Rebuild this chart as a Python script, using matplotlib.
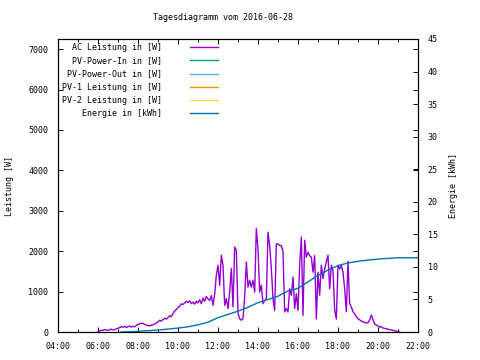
import pandas as pd
import matplotlib.pyplot as plt
import matplotlib.ticker as ticker

plt.rcParams['font.family'] = 'DejaVu Sans Mono'
plt.rcParams['font.size'] = 6

# AC Leistung [W], every 5 minutes from 06:00 to 21:05
ac_start = '2016-06-28 06:00'
ac_power = [
    10, 30, 40, 40, 60, 50, 40, 60, 70, 50, 60, 80,                       # 06
    90, 110, 130, 120, 140, 110, 130, 150, 120, 140, 130, 160,            # 07
    190, 200, 220, 210, 190, 170, 160, 150, 170, 180, 200, 220,           # 08
    250, 290, 270, 310, 340, 320, 360, 400, 380, 450, 520, 560,           # 09
    600, 640, 700, 680, 720, 760, 730, 770, 700, 740, 690, 760,           # 10
    720, 800, 700, 840, 760, 880, 820, 780, 900, 660, 940, 1400,          # 11
    1650, 1150, 1900, 1650, 660, 825, 580, 990, 1570, 620, 2100, 2020,    # 12
    470, 330, 290, 330, 870, 1730, 1110, 1280, 1110, 1280, 990, 2560,     # 13
    2060, 990, 1160, 700, 780, 825, 2470, 2140, 1570, 825, 535, 2180,     # 14
    2180, 2140, 2140, 1980, 495, 580, 495, 1070, 910, 1360, 580, 950,     # 15
    535, 1650, 2350, 410, 2270, 1850, 1970, 1890, 1850, 1480, 1890, 320,  # 16
    1480, 910, 1650, 1320, 1560, 1730, 1900, 1070, 1650, 1520, 540, 320,  # 17
    1650, 1560, 1650, 1480, 1070, 500, 1750, 700, 620, 500, 450, 380,     # 18
    330, 300, 270, 250, 240, 220, 230, 300, 420, 300, 200, 170,           # 19
    150, 120, 130, 100, 90, 80, 70, 60, 50, 40, 30, 20,                   # 20
    10, 0,                                                                # 21
]

# Energie [kWh]
energy_times = ['07:10', '08:00', '08:30', '09:00', '09:30', '10:00', '10:30',
                '11:00', '11:30', '12:00', '12:30', '13:00', '13:30', '14:00',
                '14:30', '15:00', '15:30', '16:00', '16:30', '17:00', '17:30',
                '18:00', '18:30', '19:00', '19:30', '20:00', '20:30', '21:00',
                '22:00']
energy = [0.0, 0.1, 0.2, 0.3, 0.45, 0.6, 0.8, 1.1, 1.5, 2.2, 2.7, 3.2, 3.8,
          4.5, 5.0, 5.5, 6.3, 6.7, 7.7, 8.7, 9.5, 10.2, 10.6, 10.85, 11.05,
          11.2, 11.3, 11.4, 11.4]

# series without data on this day
pv_in = []
pv_out = []
pv1 = []
pv2 = []

labels = ['AC Leistung in [W]', 'PV-Power-In in [W]', 'PV-Power-Out in [W]',
          'PV-1 Leistung in [W]', 'PV-2 Leistung in [W]', 'Energie in [kWh]']
colors = ['#9400d3', '#009e73', '#56b4e9', '#e69f00', '#f0e442', '#0072b2']

x_ticks = ['04:00', '06:00', '08:00', '10:00', '12:00', '14:00', '16:00',
           '18:00', '20:00', '22:00']


def hours(t):
    return t.hour + t.minute / 60.0


ac_x = [hours(t) for t in pd.date_range(ac_start, periods=len(ac_power), freq='5min')]
en_x = [hours(pd.Timestamp('2016-06-28 ' + t)) for t in energy_times]

fig = plt.figure(figsize=(4.8, 3.6), dpi=100)
ax = fig.add_axes([58 / 480, 28 / 360, 360 / 480, 293 / 360])
ax2 = ax.twinx()

lab = [l.rjust(20) for l in labels]
ax.plot(ac_x, ac_power, color=colors[0], lw=1, label=lab[0])
ax.plot(pv_in, pv_in, color=colors[1], lw=1, label=lab[1])
ax.plot(pv_out, pv_out, color=colors[2], lw=1, label=lab[2])
ax.plot(pv1, pv1, color=colors[3], lw=1, label=lab[3])
ax.plot(pv2, pv2, color=colors[4], lw=1, label=lab[4])
ax2.plot(en_x, energy, color=colors[5], lw=1, label=lab[5])

ax.set_xlim(4, 22)
ax.set_ylim(0, 7250)
ax2.set_ylim(0, 45)

ax.set_xticks([int(t[:2]) for t in x_ticks])
ax.set_xticklabels(x_ticks)
ax.xaxis.set_minor_locator(ticker.MultipleLocator(1))
ax.yaxis.set_major_locator(ticker.MultipleLocator(1000))
ax2.yaxis.set_major_locator(ticker.MultipleLocator(5))

ax.tick_params(which='both', direction='in', top=True, right=True, width=0.7)
ax.tick_params(which='major', length=3.5, pad=7)
ax.tick_params(which='minor', length=2)
ax2.tick_params(direction='in', length=3.5, width=0.7, pad=7)

for a in (ax, ax2):
    for s in a.spines.values():
        s.set_linewidth(0.8)

ax.set_ylabel('Leistung [W]', labelpad=10)
ax2.set_ylabel('Energie [kWh]', labelpad=8)
fig.text(223 / 480, 1 - 18 / 360, 'Tagesdiagramm vom 2016-06-28', ha='center', va='center')

h1, l1 = ax.get_legend_handles_labels()
h2, l2 = ax2.get_legend_handles_labels()
ax.legend(h1 + h2, l1 + l2, loc='upper left', bbox_to_anchor=(0.0, 1.0),
          frameon=False, markerfirst=False, handlelength=3.4, handletextpad=3.3,
          labelspacing=0.5, borderaxespad=0.3, borderpad=0.2)

fig.savefig('out.png', dpi=100)
